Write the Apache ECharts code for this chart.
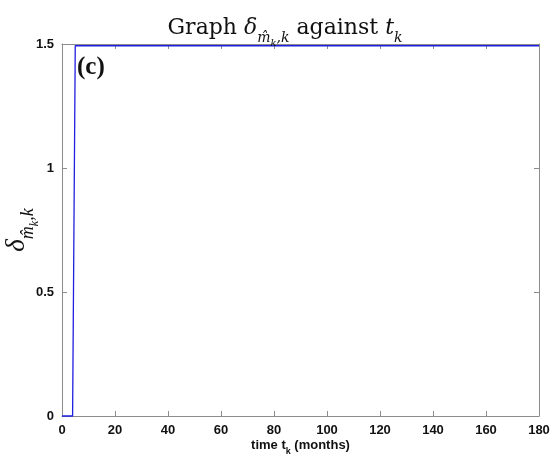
<!DOCTYPE html>
<html>
<head>
<meta charset="utf-8">
<script src="https://cdn.jsdelivr.net/npm/echarts@6/dist/echarts.min.js"></script>
<style>
  html, body { margin: 0; padding: 0; background: #fff; }
  #chart { width: 552px; height: 460px; }
</style>
</head>
<body>
<div id="chart"></div>
<script>
// Step response of delta over time (months)
const timeMonths = [0, 4, 5, 180];
const deltaValues = [0, 0, 1.493, 1.493];
const xTicks = [0, 20, 40, 60, 80, 100, 120, 140, 160, 180];
const yTicks = [0, 0.5, 1, 1.5];

const axisGrey = '#8c8c8c';
const serif = '"Liberation Serif", "DejaVu Serif", serif';
const wideSerif = '"DejaVu Serif", "Liberation Serif", serif';
const sans = '"Liberation Sans", Arial, Helvetica, sans-serif';

const chart = echarts.init(document.getElementById('chart'), null, { renderer: 'canvas' });

const frameAxis = {
  axisLine: { show: true, onZero: false, lineStyle: { color: axisGrey, width: 1 } },
  axisTick: { show: true, inside: true, length: 5, lineStyle: { color: axisGrey } },
  splitLine: { show: false }
};

chart.setOption({
  animation: false,
  backgroundColor: '#fff',
  title: {
    text: '{n|Graph }{i|δ}{s|m\u0302}{ss|k}{s|,k}{n| against }{i|t}{s|k}',
    left: 280, top: 4, textAlign: 'center',
    textStyle: {
      fontWeight: 'normal',
      rich: {
        n: { fontFamily: wideSerif, fontWeight: 'normal', fontSize: 22, color: '#111', verticalAlign: 'bottom', lineHeight: 30 },
        i: { fontFamily: wideSerif, fontWeight: 'normal', fontStyle: 'italic', fontSize: 22, color: '#111', verticalAlign: 'bottom', lineHeight: 30 },
        s: { fontFamily: wideSerif, fontWeight: 'normal', fontStyle: 'italic', fontSize: 14, color: '#111', verticalAlign: 'bottom', lineHeight: 30, padding: [0, 0, -6, 0] },
        ss: { fontFamily: wideSerif, fontWeight: 'normal', fontStyle: 'italic', fontSize: 10, color: '#111', verticalAlign: 'bottom', lineHeight: 30, padding: [0, 0, -9, 0] }
      }
    }
  },
  grid: { left: 62, right: 13, top: 44, bottom: 44, containLabel: false, outerBoundsMode: 'none' },
  xAxis: [
    Object.assign({}, frameAxis, {
      type: 'value', min: 0, max: 180, interval: 20,
      axisLabel: {
        margin: 8, color: '#111', fontFamily: sans, fontWeight: 'bold', fontSize: 13,
        customValues: xTicks
      },
      axisTick: { show: true, inside: true, length: 5, lineStyle: { color: axisGrey }, customValues: xTicks },
      name: '{t|time t}{k|k}{t| (months)}',
      nameLocation: 'middle', nameGap: 18, nameMoveOverlap: false,
      nameTextStyle: {
        rich: {
          t: { fontFamily: sans, fontWeight: 'bold', fontSize: 13, color: '#111', verticalAlign: 'bottom', lineHeight: 18 },
          k: { fontFamily: sans, fontWeight: 'bold', fontSize: 9, color: '#111', verticalAlign: 'bottom', lineHeight: 18, padding: [0, 0, -4, 0] }
        }
      }
    }),
    Object.assign({}, frameAxis, {
      type: 'value', min: 0, max: 180, interval: 20, position: 'top',
      axisLabel: { show: false }
    })
  ],
  yAxis: [
    Object.assign({}, frameAxis, {
      type: 'value', min: 0, max: 1.5, interval: 0.5,
      axisLabel: {
        margin: 8, color: '#111', fontFamily: sans, fontWeight: 'bold', fontSize: 13,
        customValues: yTicks,
        formatter: v => String(v)
      },
      axisTick: { show: true, inside: true, length: 5, lineStyle: { color: axisGrey }, customValues: yTicks },
      name: '{i|δ}{s|m\u0302}{ss|k}{s|,k}',
      nameLocation: 'middle', nameGap: 32, nameRotate: 90, nameMoveOverlap: false,
      nameTextStyle: {
        rich: {
          i: { fontFamily: serif, fontStyle: 'italic', fontSize: 27, color: '#111', verticalAlign: 'bottom', lineHeight: 30 },
          s: { fontFamily: serif, fontStyle: 'italic', fontSize: 18, color: '#111', verticalAlign: 'bottom', lineHeight: 30, padding: [0, 0, -7, 0] },
          ss: { fontFamily: serif, fontStyle: 'italic', fontSize: 12, color: '#111', verticalAlign: 'bottom', lineHeight: 30, padding: [0, 0, -11, 0] }
        }
      }
    }),
    Object.assign({}, frameAxis, {
      type: 'value', min: 0, max: 1.5, interval: 0.5, position: 'right',
      axisLabel: { show: false }
    })
  ],
  graphic: [{
    type: 'text', left: 77, top: 55,
    style: { text: '(c)', fontFamily: serif, fontWeight: 'bold', fontSize: 25, fill: '#111' }
  }],
  series: [{
    type: 'line',
    xAxisIndex: 0, yAxisIndex: 0,
    data: timeMonths.map((t, i) => [t, deltaValues[i]]),
    showSymbol: false,
    lineStyle: { color: '#1f1fe0', width: 1.3 },
    clip: false
  }]
});
</script>
</body>
</html>
